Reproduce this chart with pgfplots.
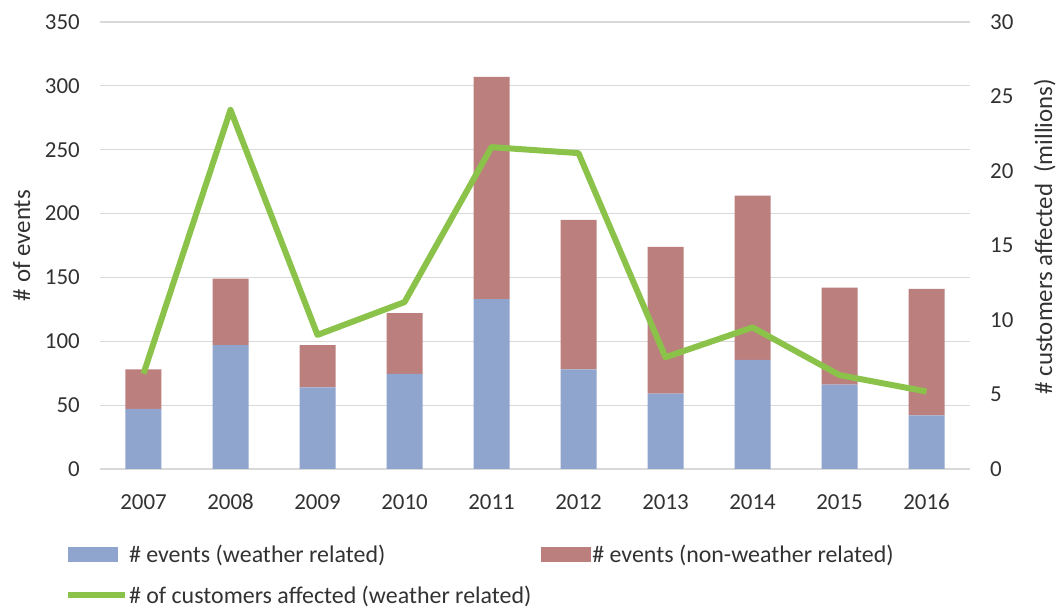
\documentclass[border=0pt]{standalone}
\usepackage{fontspec}
\setmainfont{Carlito}
\usepackage{pgfplots}
\pgfplotsset{compat=1.18}
\definecolor{wblue}{RGB}{143,165,206}
\definecolor{nred}{RGB}{187,127,126}
\definecolor{lgreen}{RGB}{139,195,74}
\definecolor{gridgray}{RGB}{217,217,217}
\definecolor{txt}{RGB}{50,50,50}
\begin{document}
\begin{tikzpicture}
\begin{axis}[
  scale only axis, width=870bp, height=447bp,
  xmin=-0.5, xmax=9.5, ymin=0, ymax=350,
  ybar stacked, bar width=36bp,
  xtick={0,1,2,3,4,5,6,7,8,9},
  xticklabels={2007,2008,2009,2010,2011,2012,2013,2014,2015,2016},
  ytick={0,50,...,350},
  axis line style={draw=none},
  major tick length=0pt,
  ymajorgrids, grid style={gridgray, line width=1.2bp},
  /pgf/number format/assume math mode=true,
  tick label style={font=\fontsize{23}{27}\selectfont, text=txt},
  yticklabel style={inner sep=0pt, anchor=east, xshift=-20bp},
  xticklabel style={inner sep=0pt, anchor=north, yshift=-25bp},
  ylabel={\# of events},
  every axis y label/.style={at={(axis description cs:-0.09,0.5)}, rotate=90, anchor=center, font=\fontsize{25}{29}\selectfont, text=txt},
  legend cell align=left,
  legend style={draw=none, fill=none, legend columns=2, inner sep=0pt,
    at={(axis description cs:-0.041,-0.166)}, anchor=north west,
    font=\fontsize{24}{28}\selectfont, text=txt,
    row sep=19bp,
    nodes={inner sep=1.5bp},
    /tikz/every even column/.append style={column sep=8bp}},
]
\addplot[fill=wblue, draw=none, legend image code/.code={\fill[wblue] (0bp,-7.5bp) rectangle (50bp,7.5bp);}]
  coordinates {(0,47) (1,97) (2,64) (3,74.5) (4,133) (5,78) (6,59) (7,85.5) (8,66) (9,42)};
\addlegendentry{\# events (weather related)}
\addplot[fill=nred, draw=none, legend image code/.code={\fill[nred] (0bp,-7.5bp) rectangle (50bp,7.5bp);}]
  coordinates {(0,31) (1,52) (2,33) (3,47.5) (4,174) (5,117) (6,115) (7,128.5) (8,76) (9,99)};
\addlegendentry{\# events (non-weather related)}
\addlegendimage{lgreen, line width=6bp, legend image code/.code={\draw[lgreen, line width=6bp] (0bp,0bp) -- (57bp,0bp);}}
\addlegendentry{\# of customers affected (weather related)}
\coordinate (tl) at (rel axis cs:0,1);
\end{axis}
\path[use as bounding box] (tl) ++(-100bp,22bp) rectangle ++(1057bp,-612bp);
\begin{axis}[
  scale only axis, width=870bp, height=447bp,
  xmin=-0.5, xmax=9.5, ymin=0, ymax=30,
  axis y line*=right, axis x line=none,
  ytick={0,5,...,30},
  axis line style={draw=none},
  major tick length=0pt,
  /pgf/number format/assume math mode=true,
  tick label style={font=\fontsize{23}{27}\selectfont, text=txt},
  yticklabel style={inner sep=0pt, anchor=west, xshift=20bp},
  ylabel={\# customers affected\ \ (millions)},
  every axis y label/.style={at={(axis description cs:1.086,0.52)}, rotate=90, anchor=center, font=\fontsize{25}{29}\selectfont, text=txt},
]
\addplot[lgreen, line width=6bp, line join=round]
  coordinates {(0,6.4) (1,24.1) (2,9.0) (3,11.2) (4,21.6) (5,21.2) (6,7.5) (7,9.5) (8,6.3) (9,5.2)};
\end{axis}
\end{tikzpicture}
\end{document}
